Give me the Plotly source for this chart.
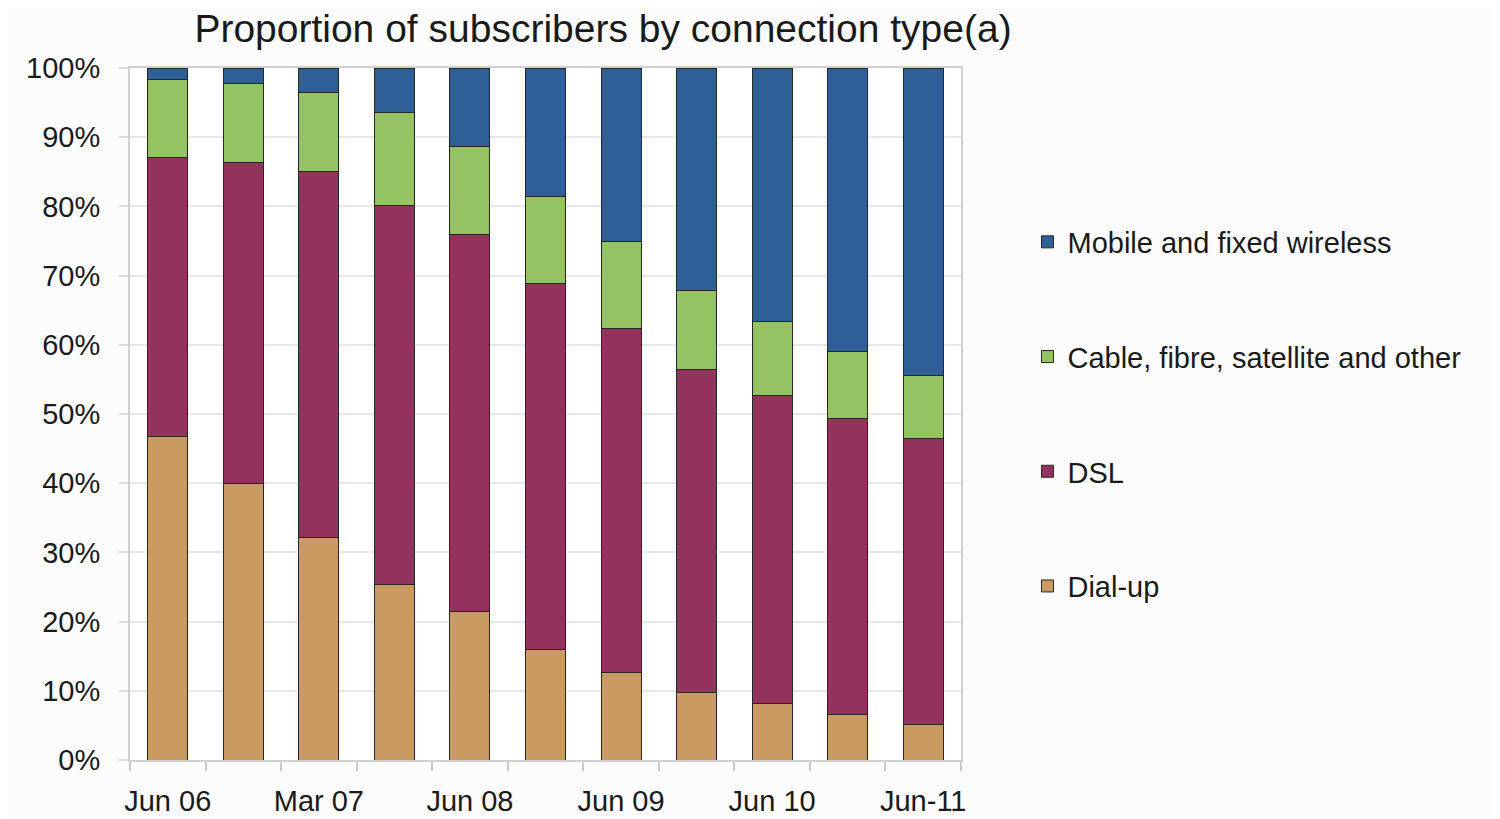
import plotly.graph_objects as go

categories = ["Jun 06", "Dec 06", "Mar 07", "Dec 07", "Jun 08", "Dec 08",
              "Jun 09", "Dec 09", "Jun 10", "Dec 10", "Jun-11"]
tick_labels = ["Jun 06", "", "Mar 07", "", "Jun 08", "", "Jun 09", "", "Jun 10", "", "Jun-11"]

dial_up = [46.7, 40.0, 32.2, 25.3, 21.5, 15.9, 12.6, 9.7, 8.2, 6.6, 5.2]
dsl = [40.4, 46.4, 52.8, 54.9, 54.5, 52.9, 49.7, 46.8, 44.5, 42.7, 41.2]
cable = [11.2, 11.3, 11.4, 13.3, 12.6, 12.7, 12.6, 11.3, 10.7, 9.8, 9.2]
mobile = [1.7, 2.3, 3.6, 6.5, 11.4, 18.5, 25.1, 32.2, 36.6, 40.9, 44.4]

series = [
    ("Dial-up", dial_up, "#C99A62", 4),
    ("DSL", dsl, "#93325C", 3),
    ("Cable, fibre, satellite and other", cable, "#95C363", 2),
    ("Mobile and fixed wireless", mobile, "#2E5F96", 1),
]

fig = go.Figure()
for name, vals, color, rank in series:
    fig.add_trace(go.Bar(
        x=categories, y=vals, name=name, legendgroup=name, legendrank=rank,
        marker=dict(color=color, line=dict(color="#262626", width=1)),
    ))

# page body has an 8px margin, so the figure is offset by (8, 8)
W, H, OFF = 1492, 811, 8
font_family = "Liberation Sans, Arial, sans-serif"
fig.update_layout(
    width=W, height=H,
    barmode="stack", bargap=0.47,
    paper_bgcolor="#fbfcfb", plot_bgcolor="#ffffff",
    margin=dict(l=130 - OFF, r=539, t=68 - OFF, b=59, autoexpand=False),
    font=dict(family=font_family, color="#1a1a1a"),
    title=dict(text="Proportion of subscribers by connection type(a)",
               x=(603 - OFF) / W, xanchor="center", xref="container",
               y=1 - (28 - OFF) / H, yanchor="middle", yref="container",
               font=dict(size=39, family=font_family, color="#1a1a1a")),
    legend=dict(x=1.08, xanchor="left", y=0.5, yanchor="middle",
                traceorder="grouped", tracegroupgap=74,
                font=dict(size=29, family=font_family, color="#1a1a1a"),
                bgcolor="rgba(0,0,0,0)"),
    showlegend=True,
)
fig.update_xaxes(
    tickvals=categories, ticktext=tick_labels, tickson="boundaries",
    ticks="outside", ticklen=9, tickcolor="#c8c8c8", tickwidth=2,
    showline=True, linecolor="#d0d0d0", linewidth=2, mirror=True,
    showgrid=False, ticklabelstandoff=14, tickangle=0, automargin=False,
    tickfont=dict(size=29, family=font_family, color="#1a1a1a"),
)
fig.update_yaxes(
    range=[0, 100], tickvals=[0, 10, 20, 30, 40, 50, 60, 70, 80, 90, 100],
    ticktext=[f"{v}%" for v in range(0, 101, 10)],
    ticks="outside", ticklen=9, tickcolor="#dcdcdc", tickwidth=2,
    showline=True, linecolor="#d0d0d0", linewidth=2, mirror=True,
    showgrid=True, gridcolor="#e6e8e6", gridwidth=2, zeroline=False,
    ticklabelstandoff=13, automargin=False,
    tickfont=dict(size=29, family=font_family, color="#1a1a1a"),
)

fig.write_html("out.html")
